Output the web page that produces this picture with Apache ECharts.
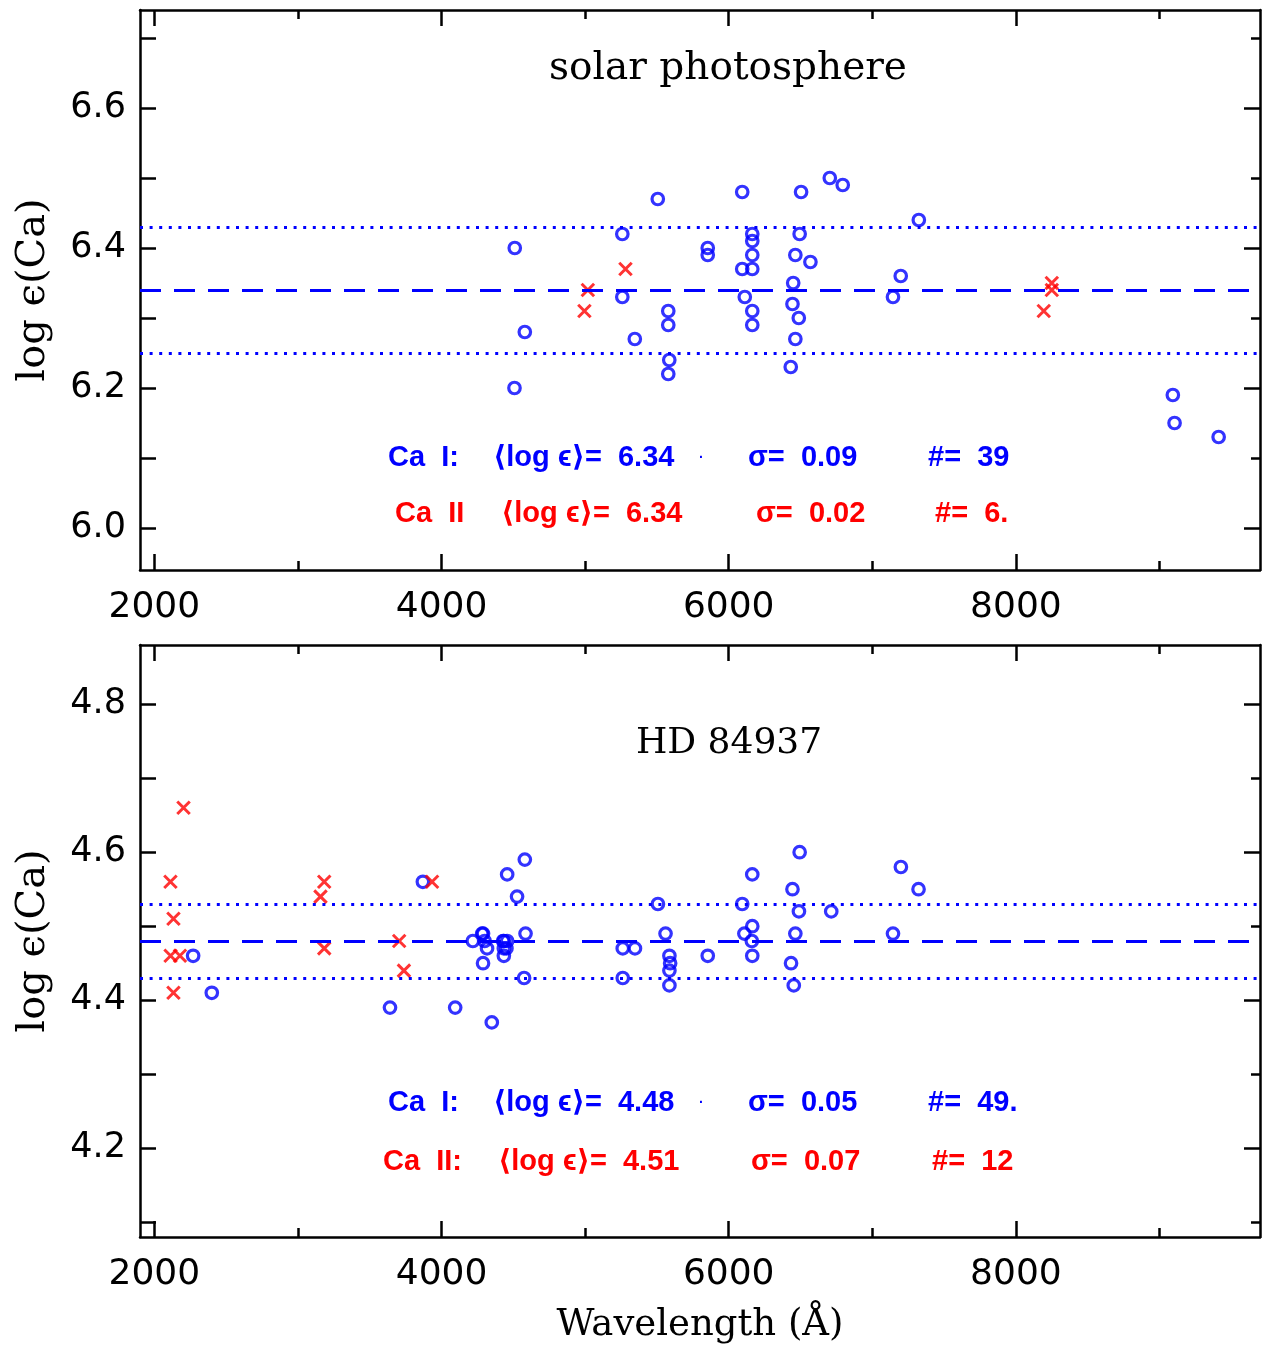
<!DOCTYPE html>
<html>
<head>
<meta charset="utf-8">
<script src="https://cdn.jsdelivr.net/npm/echarts@6/dist/echarts.min.js"></script>
<style>
  html, body { margin: 0; padding: 0; background: #fff; }
  #chart { width: 1262px; height: 1346px; }
</style>
</head>
<body>
<div id="chart"></div>
<script>
// solar photosphere, Ca I (circles) and Ca II (crosses)
var solarCaIWave = [4510, 4508, 4580, 5259, 5259, 5346, 5506, 5579, 5579, 5586, 5579, 5854, 5854,
  6094, 6094, 6112, 6164, 6164, 6164, 6164, 6164, 6164, 6504, 6494, 6464, 6569, 6449, 6444, 6488,
  6464, 6432, 6704, 6794, 7144, 7198, 7324, 9093, 9105, 9412];
var solarCaIAbund = [6.40, 6.20, 6.28, 6.42, 6.33, 6.27, 6.47, 6.31, 6.29, 6.24, 6.22, 6.40, 6.39,
  6.48, 6.37, 6.33, 6.42, 6.41, 6.39, 6.37, 6.31, 6.29, 6.48, 6.42, 6.39, 6.38, 6.35, 6.32, 6.30,
  6.27, 6.23, 6.50, 6.49, 6.33, 6.36, 6.44, 6.19, 6.15, 6.13];
var solarCaIIWave = [4995, 5019, 5281, 8194, 8250, 8250];
var solarCaIIAbund = [6.31, 6.34, 6.37, 6.31, 6.34, 6.35];

// HD 84937
var hdCaIWave = [2270, 2400, 3641, 3870, 4095, 4350,
  4218, 4283, 4289, 4300, 4317, 4289, 4429, 4434, 4434, 4452, 4434, 4457,
  4457, 4526, 4580, 4585, 4575,
  5262, 5347, 5262, 5507, 5560, 5587, 5592, 5587, 5587, 5854,
  6094, 6164, 6164, 6109, 6161, 6164,
  6494, 6444, 6489, 6464, 6434, 6453, 6714,
  7144, 7199, 7322];
var hdCaIAbund = [4.46, 4.41, 4.39, 4.56, 4.39, 4.37,
  4.48, 4.49, 4.49, 4.48, 4.47, 4.45, 4.48, 4.48, 4.47, 4.47, 4.46, 4.48,
  4.57, 4.54, 4.59, 4.49, 4.43,
  4.47, 4.47, 4.43, 4.53, 4.49, 4.46, 4.45, 4.44, 4.42, 4.46,
  4.53, 4.57, 4.50, 4.49, 4.48, 4.46,
  4.60, 4.55, 4.52, 4.49, 4.45, 4.42, 4.52,
  4.49, 4.58, 4.55];
var hdCaIIWave = [2203, 2112, 2133, 2113, 2178, 2133, 3183, 3157, 3183, 3705, 3738, 3934];
var hdCaIIAbund = [4.66, 4.56, 4.51, 4.46, 4.46, 4.41, 4.56, 4.54, 4.47, 4.48, 4.44, 4.56];

// mean and +/- sigma lines
var solarLines = [6.34, 6.43, 6.25];
var hdLines = [4.48, 4.53, 4.43];

// ticks
var xMajorTicks = [2000, 4000, 6000, 8000];
var xMinorTicks = [3000, 5000, 7000, 9000];
var solarYMajor = [6.0, 6.2, 6.4, 6.6];
var solarYMinor = [6.1, 6.3, 6.5, 6.7];
var hdYMajor = [4.2, 4.4, 4.6, 4.8];
var hdYMinor = [4.1, 4.3, 4.5, 4.7];

var BLUE = '#0000ff', RED = '#ff0000';
var SERIF = '"DejaVu Serif", "Liberation Serif", serif';
var SANS = '"DejaVu Sans", sans-serif';
var STAT = '"Liberation Sans", "DejaVu Sans", sans-serif';

function zip(a, b) {
  var out = [];
  for (var i = 0; i < a.length; i++) out.push([a[i], b[i]]);
  return out;
}

function xAxes(g, withName) {
  var base = { gridIndex: g, type: 'value', min: 1900, max: 9700, splitLine: { show: false } };
  var line = { show: true, lineStyle: { color: '#000', width: 2.5 } };
  var list = [];
  list.push(Object.assign({}, base, {
    position: 'bottom', axisLine: line,
    axisTick: { show: true, inside: true, length: 16, customValues: xMajorTicks, lineStyle: { color: '#000', width: 2.5 } },
    axisLabel: { show: true, customValues: xMajorTicks, margin: 20, fontSize: 36, fontFamily: SANS, color: '#000',
      formatter: function (v) { return String(v); } },
    name: withName ? 'Wavelength (Å)' : '', nameLocation: 'middle', nameGap: 70,
    nameTextStyle: { fontSize: 37, fontFamily: SERIF, color: '#000' }
  }));
  list.push(Object.assign({}, base, {
    position: 'bottom', axisLine: { show: false },
    axisTick: { show: true, inside: true, length: 9, customValues: xMinorTicks, lineStyle: { color: '#000', width: 2.5 } },
    axisLabel: { show: false }
  }));
  list.push(Object.assign({}, base, {
    position: 'top', axisLine: line,
    axisTick: { show: true, inside: true, length: 16, customValues: xMajorTicks, lineStyle: { color: '#000', width: 2.5 } },
    axisLabel: { show: false }
  }));
  list.push(Object.assign({}, base, {
    position: 'top', axisLine: { show: false },
    axisTick: { show: true, inside: true, length: 9, customValues: xMinorTicks, lineStyle: { color: '#000', width: 2.5 } },
    axisLabel: { show: false }
  }));
  return list;
}

function yAxes(g, min, max, major, minor) {
  var base = { gridIndex: g, type: 'value', min: min, max: max, splitLine: { show: false } };
  var line = { show: true, lineStyle: { color: '#000', width: 2.5 } };
  var list = [];
  list.push(Object.assign({}, base, {
    position: 'left', axisLine: line,
    axisTick: { show: true, inside: true, length: 16, customValues: major, lineStyle: { color: '#000', width: 2.5 } },
    axisLabel: { show: true, customValues: major, margin: 14, fontSize: 35, fontFamily: SANS, color: '#000',
      formatter: function (v) { return v.toFixed(1); } },
    name: 'log ϵ(Ca)', nameLocation: 'middle', nameGap: 86, nameRotate: 90,
    nameTextStyle: { fontSize: 40, fontFamily: SERIF, color: '#000' }
  }));
  list.push(Object.assign({}, base, {
    position: 'left', axisLine: { show: false },
    axisTick: { show: true, inside: true, length: 16, customValues: minor, lineStyle: { color: '#000', width: 2.5 } },
    axisLabel: { show: false }
  }));
  list.push(Object.assign({}, base, {
    position: 'right', axisLine: line,
    axisTick: { show: true, inside: true, length: 16, customValues: major, lineStyle: { color: '#000', width: 2.5 } },
    axisLabel: { show: false }
  }));
  list.push(Object.assign({}, base, {
    position: 'right', axisLine: { show: false },
    axisTick: { show: true, inside: true, length: 9, customValues: minor, lineStyle: { color: '#000', width: 2.5 } },
    axisLabel: { show: false }
  }));
  return list;
}

function refLines(vals) {
  return {
    silent: true, symbol: 'none', label: { show: false },
    data: [
      { yAxis: vals[0], lineStyle: { color: BLUE, width: 3, type: [21, 13] } },
      { yAxis: vals[1], lineStyle: { color: BLUE, width: 3, type: [3, 6.6] } },
      { yAxis: vals[2], lineStyle: { color: BLUE, width: 3, type: [3, 6.6] } }
    ]
  };
}

function circles(data, xi, yi, lines) {
  var s = {
    type: 'scatter', xAxisIndex: xi, yAxisIndex: yi, data: data,
    symbol: 'circle', symbolSize: 11.5,
    itemStyle: { color: 'rgba(0,0,0,0)', borderColor: BLUE, borderWidth: 3.2 },
    emphasis: { disabled: true }, z: 3
  };
  if (lines) s.markLine = refLines(lines);
  return s;
}

function crosses(data, xi, yi) {
  return {
    type: 'scatter', xAxisIndex: xi, yAxisIndex: yi, data: data,
    symbol: 'path://M0 0L10 10M10 0L0 10', symbolSize: 12.5,
    itemStyle: { color: 'rgba(0,0,0,0)', borderColor: RED, borderWidth: 3 },
    emphasis: { disabled: true }, z: 4
  };
}

function txt(x, y, s, color, font, align) {
  return {
    type: 'text', x: x, y: y, silent: true, z: 10,
    style: { text: s, fill: color, font: font, align: align || 'left', verticalAlign: 'middle',
      textAlign: align || 'left', textVerticalAlign: 'middle' }
  };
}

var statFont = 'bold 29px ' + STAT;

var chart = echarts.init(document.getElementById('chart'));
var option = {
  backgroundColor: '#fff',
  animation: false,
  grid: [
    { left: 140, right: 2, top: 10, height: 560 },
    { left: 140, right: 2, top: 645, height: 592 }
  ],
  xAxis: xAxes(0, false).concat(xAxes(1, true)),
  yAxis: yAxes(0, 5.94, 6.74, solarYMajor, solarYMinor).concat(yAxes(1, 4.08, 4.88, hdYMajor, hdYMinor)),
  series: [
    circles(zip(solarCaIWave, solarCaIAbund), 0, 0, solarLines),
    crosses(zip(solarCaIIWave, solarCaIIAbund), 0, 0),
    circles(zip(hdCaIWave, hdCaIAbund), 4, 4, hdLines),
    crosses(zip(hdCaIIWave, hdCaIIAbund), 4, 4)
  ],
  graphic: [
    txt(728, 69, 'solar photosphere', '#000', '39px ' + SERIF, 'center'),
    txt(729, 744, 'HD 84937', '#000', '36px ' + SERIF, 'center'),

    txt(388, 458, 'Ca  I:', BLUE, statFont),
    txt(493, 458, '⟨log ϵ⟩=  6.34', BLUE, statFont),
    txt(699, 458, '·', BLUE, 'bold 14px ' + STAT),
    txt(748, 458, 'σ=  0.09', BLUE, statFont),
    txt(928, 458, '#=  39', BLUE, statFont),
    txt(395, 514, 'Ca  II', RED, statFont),
    txt(501, 514, '⟨log ϵ⟩=  6.34', RED, statFont),
    txt(756, 514, 'σ=  0.02', RED, statFont),
    txt(935, 514, '#=  6.', RED, statFont),

    txt(388, 1103, 'Ca  I:', BLUE, statFont),
    txt(493, 1103, '⟨log ϵ⟩=  4.48', BLUE, statFont),
    txt(699, 1103, '·', BLUE, 'bold 14px ' + STAT),
    txt(748, 1103, 'σ=  0.05', BLUE, statFont),
    txt(928, 1103, '#=  49.', BLUE, statFont),
    txt(383, 1162, 'Ca  II:', RED, statFont),
    txt(498, 1162, '⟨log ϵ⟩=  4.51', RED, statFont),
    txt(751, 1162, 'σ=  0.07', RED, statFont),
    txt(932, 1162, '#=  12', RED, statFont)
  ]
};
chart.setOption(option);
</script>
</body>
</html>
